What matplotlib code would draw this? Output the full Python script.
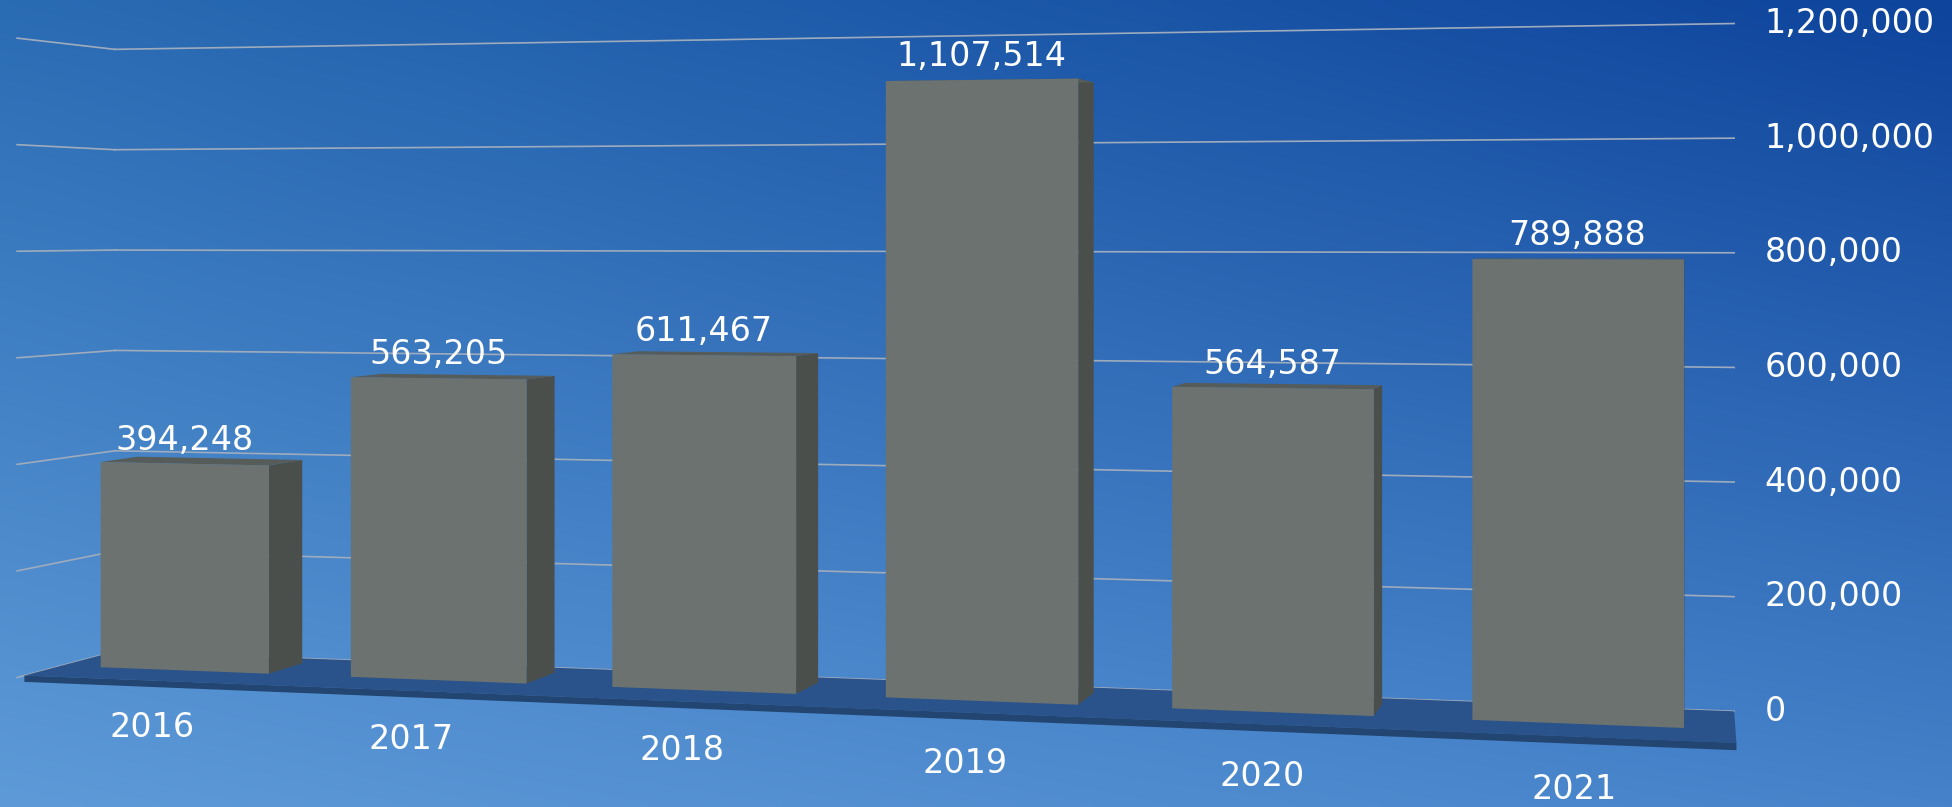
import numpy as np
import matplotlib.pyplot as plt
from matplotlib.transforms import Transform
from matplotlib.colors import to_rgb

plt.rcParams['font.family'] = ['DejaVu Sans']

years = ['2016', '2017', '2018', '2019', '2020', '2021']
values = [394248, 563205, 611467, 1107514, 564587, 789888]
ticks = [0, 200000, 400000, 600000, 800000, 1000000, 1200000]

# camera (in pixels) and scene layout
F, CX, CY, EYE = 2976.0, 976.0, 231.0, 0.838
ANG = np.arctan(0.243)
STEP = 0.5212
X0, Z0 = -1.510, 5.675
BAR_W = 0.677      # category units
BAR_D = 0.1385     # depth of the bars
WALL_T = 0.2       # back wall
FLOOR_T = -0.13    # front edge of the floor

FRONT, SIDE, TOP = '#6c7270', '#4a4f4c', '#565c59'
GRID = '#9eabbd'


def project(c, v, t):
    c, v, t = np.broadcast_arrays(np.asarray(c, float), np.asarray(v, float), np.asarray(t, float))
    X = X0 + c * STEP * np.cos(ANG) + t * np.sin(ANG)
    Z = Z0 - c * STEP * np.sin(ANG) + t * np.cos(ANG)
    Y = v / 1e6
    return np.column_stack([CX + F * X / Z, CY + F * (EYE - Y) / Z])


class Plane(Transform):
    """(a, b) on one plane of the scene -> pixel position"""
    input_dims = output_dims = 2

    def __init__(self, kind, fixed):
        super().__init__()
        self.kind, self.fixed = kind, fixed

    def transform_non_affine(self, pts):
        a, b = np.asarray(pts, float).reshape(-1, 2).T
        k = np.full_like(a, self.fixed)
        if self.kind == 'front':      # (category, value) at depth fixed
            return project(a, b, k)
        if self.kind == 'side':       # (depth, value) at category fixed
            return project(k, b, a)
        return project(a, k, b)       # 'top': (category, depth) at value fixed


fig = plt.figure(figsize=(19.52, 8.07), dpi=100)
ax = fig.add_axes([0, 0, 1, 1])

# background gradient
tl, tr, bl, br = [np.array(to_rgb(c)) for c in ('#2a6cb4', '#0e449c', '#5e9ad8', '#4582c9')]
gy, gx = np.mgrid[0:1:120j, 0:1:240j]
img = (((1 - gx) * (1 - gy))[..., None] * tl + (gx * (1 - gy))[..., None] * tr
       + ((1 - gx) * gy)[..., None] * bl + (gx * gy)[..., None] * br)
ax.imshow(img, extent=[0, 1952, 807, 0], aspect='auto', zorder=0, interpolation='bilinear')

back = Plane('front', WALL_T) + ax.transData
left = Plane('side', -0.5) + ax.transData
for tk in ticks:
    ax.plot([-0.5, 5.5], [tk, tk], transform=back, color=GRID, lw=1.2, zorder=1)
    ax.plot([WALL_T, FLOOR_T - 0.025], [tk, tk], transform=left, color=GRID, lw=1.2, zorder=1)
    ax.annotate(f'{tk:,}', xy=(5.5, tk), xycoords=back, xytext=(22, 0),
                textcoords='offset points', ha='left', va='center',
                color='white', fontsize=24, zorder=5)

# floor
floor = Plane('top', 0) + ax.transData
ax.bar(2.5, WALL_T - FLOOR_T, width=6, bottom=FLOOR_T, transform=floor,
       color='#29538a', lw=0, zorder=2)
ax.bar(2.5, 12000, width=6, bottom=-12000, transform=Plane('front', FLOOR_T) + ax.transData,
       color='#234572', lw=0, zorder=2)

front = Plane('front', 0) + ax.transData
labels_at = Plane('front', -0.12) + ax.transData
for i, (yr, val) in enumerate(zip(years, values)):
    ax.bar(BAR_D / 2, val, width=BAR_D, transform=Plane('side', i + BAR_W / 2) + ax.transData,
           color=SIDE, lw=0, zorder=3)
    ax.bar(i, BAR_D, width=BAR_W, transform=Plane('top', val) + ax.transData,
           color=TOP, lw=0, zorder=3)
    ax.bar(i, val, width=BAR_W, transform=front, color=FRONT, lw=0, zorder=4)
    ax.annotate(f'{val:,}', xy=(i, val), xycoords=front, xytext=(0, 10),
                textcoords='offset points', ha='center', va='baseline',
                color='white', fontsize=24, zorder=5)
    ax.annotate(yr, xy=(i, -90000), xycoords=labels_at, ha='center', va='center',
                color='white', fontsize=24, zorder=5)

ax.set_xlim(0, 1952)
ax.set_ylim(807, 0)
ax.axis('off')

fig.savefig('out.png', dpi=100)
